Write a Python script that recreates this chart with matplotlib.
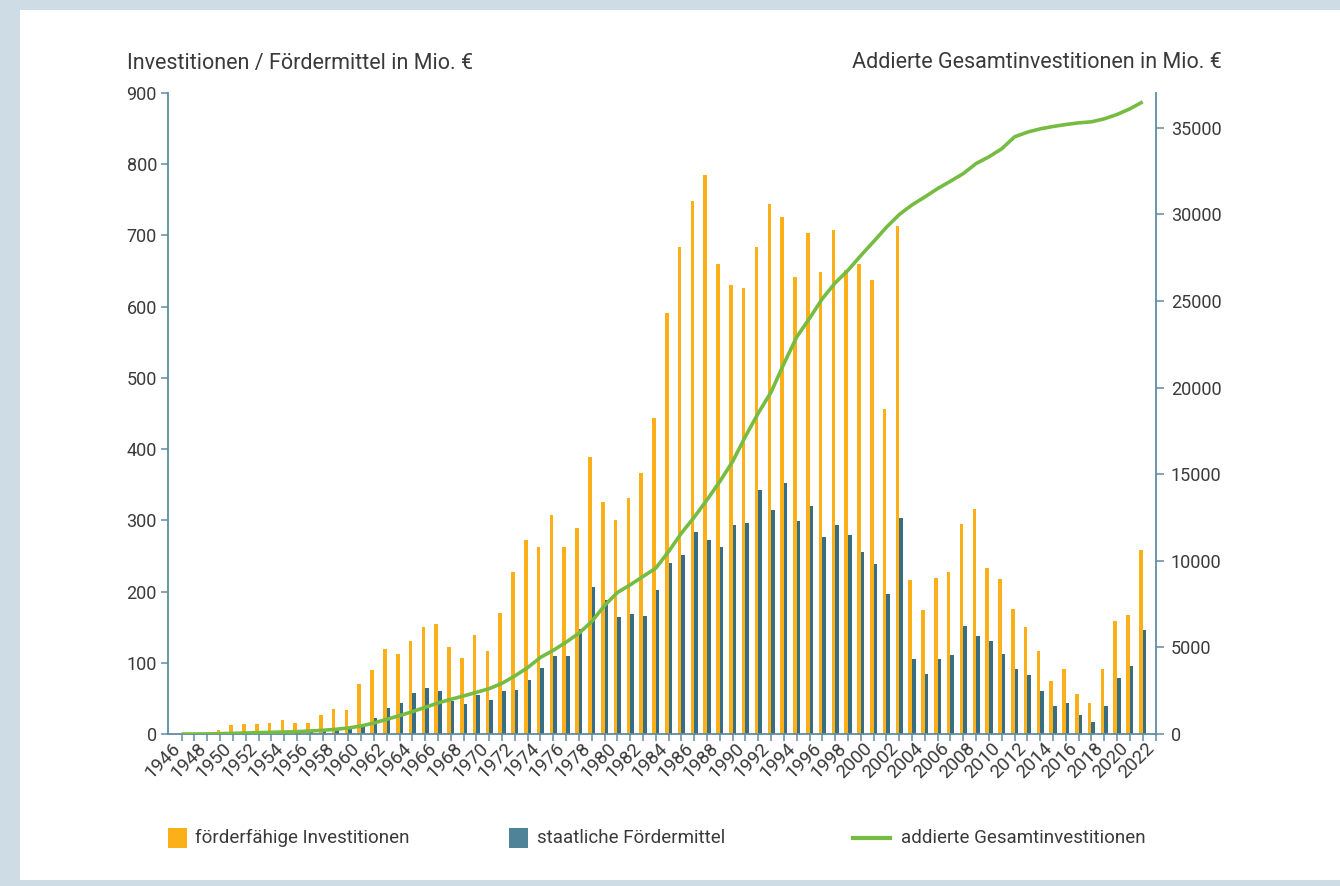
import matplotlib
matplotlib.use("Agg")
import matplotlib.pyplot as plt
import matplotlib.transforms as mtransforms
from matplotlib.patches import Rectangle
from matplotlib.lines import Line2D

# ---------------------------------------------------------------- data
years = list(range(1946, 2022))
axis_years = list(range(1946, 2023))

investitionen = [
    0, 0, 1, 5, 12, 14, 14, 16, 19, 16, 16, 26, 35, 33,
    70, 90, 119, 112, 131, 150, 154, 122, 107, 139,
    117, 170, 227, 273, 263, 308, 263, 289, 389, 326,
    300, 332, 366, 444, 591, 684, 748, 785, 660, 630,
    626, 684, 744, 726, 642, 703, 649, 707, 651, 660,
    638, 457, 713, 216, 174, 219, 227, 295, 316, 233,
    217, 175, 150, 116, 75, 91, 56, 43, 91, 159, 167, 258,
]

foerdermittel = [
    0, 0, 0, 1, 2, 2, 3, 3, 4, 3, 3, 4, 6, 8,
    11, 23, 36, 44, 57, 64, 61, 46, 42, 55,
    48, 61, 62, 76, 92, 110, 109, 147, 207, 188,
    164, 168, 166, 202, 240, 251, 283, 272, 262, 294,
    296, 342, 314, 353, 299, 320, 276, 293, 279, 255,
    238, 196, 303, 105, 84, 106, 111, 152, 137, 130,
    113, 91, 83, 61, 40, 44, 26, 17, 40, 78, 95, 146,
]

gesamt_addiert = [
    0, 0, 5, 19, 38, 58, 77, 96, 116, 135, 173, 212, 270, 347,
    462, 635, 847, 1059, 1290, 1540, 1790, 2002, 2195, 2407,
    2619, 2927, 3351, 3832, 4420, 4830, 5300, 5817, 6488, 7414,
    8163, 8608, 9090, 9572, 10530, 11594, 12516, 13518, 14576, 15732,
    17180, 18526, 19736, 21375, 22917, 23992, 25130, 26036, 26767, 27614,
    28423, 29249, 29983, 30542, 31000, 31485, 31909, 32350, 32930, 33315,
    33780, 34470, 34740, 34930, 35066, 35181, 35277, 35335, 35508, 35760,
    36085, 36490,
]

left_ticks = list(range(0, 901, 100))
right_ticks = list(range(0, 35001, 5000))

title_left = "Investitionen / Fördermittel in Mio. €"
title_right = "Addierte Gesamtinvestitionen in Mio. €"
legend_labels = ["förderfähige Investitionen", "staatliche Fördermittel",
                 "addierte Gesamtinvestitionen"]

# ---------------------------------------------------------------- style
ORANGE = "#FBB01A"
BLUE = "#376E83"
BLUE_LEGEND = "#4F8498"
GREEN = "#76BC43"
AXIS = "#5F8CA0"
TEXT = "#3A3A3A"
FRAME = "#CEDDE5"

plt.rcParams["font.family"] = ["Roboto", "DejaVu Sans"]
plt.rcParams["font.weight"] = "normal"
plt.rcParams["text.color"] = TEXT

W, H = 1340, 886
fig = plt.figure(figsize=(W / 100, H / 100), dpi=100)
fig.patch.set_facecolor(FRAME)

# white panel inside the light frame
fig.add_artist(Rectangle((20 / W, 1 - 880 / H), (W - 20) / W, (880 - 10) / H,
                         transform=fig.transFigure, facecolor="white",
                         edgecolor="none", zorder=0))


def fx(px):
    return px / W


def fy(py):
    return 1 - py / H


ax_left, ax_right, ax_top, ax_bottom = 168, 1155.5, 93, 734
ax = fig.add_axes([fx(ax_left), fy(ax_bottom), fx(ax_right - ax_left),
                   (ax_bottom - ax_top) / H])
ax.patch.set_visible(False)

bar_w = 0.28
ax.bar(years, investitionen, width=-bar_w, align="edge", color=ORANGE,
       edgecolor="none", zorder=2)
ax.bar(years, foerdermittel, width=bar_w, align="edge", color=BLUE,
       edgecolor="none", zorder=2)

ax.set_xlim(1946 - 13.7 / 12.83, 2022)
ax.set_ylim(0, 900)
ax.set_yticks(left_ticks)
ax.set_xticks(axis_years)
ax.set_xticklabels([str(y) if y % 2 == 0 else "" for y in axis_years])

for side in ("top", "right"):
    ax.spines[side].set_visible(False)
for side in ("left", "bottom"):
    ax.spines[side].set_color(AXIS)
    ax.spines[side].set_linewidth(1.3)

ax.tick_params(axis="both", color=AXIS, length=5, width=1.1, labelsize=13,
               labelcolor=TEXT)
ax.tick_params(axis="y", pad=3)
ax.tick_params(axis="x", pad=1, labelsize=13.5)

offset = mtransforms.ScaledTranslation(-4 / 100, -3 / 100, fig.dpi_scale_trans)
for lab in ax.get_xticklabels():
    lab.set_rotation(45)
    lab.set_rotation_mode("anchor")
    lab.set_ha("right")
    lab.set_va("center")
    lab.set_transform(lab.get_transform() + offset)

# cumulative line on the secondary axis
ax2 = ax.twinx()
ax2.plot(years, gesamt_addiert, color=GREEN, linewidth=2.6,
         solid_capstyle="butt", zorder=3)
ax2.set_ylim(0, 37000)
ax2.set_yticks(right_ticks)
for side in ("top", "left", "bottom"):
    ax2.spines[side].set_visible(False)
ax2.spines["right"].set_color(AXIS)
ax2.spines["right"].set_linewidth(1.3)
ax2.tick_params(axis="y", color=AXIS, length=6, width=1.1,
                labelsize=13, pad=5, labelcolor=TEXT)

# axis titles
fig.text(fx(127), fy(64), title_left, ha="left", va="center", fontsize=15.5)
fig.text(fx(1222), fy(62), title_right, ha="right", va="center", fontsize=15.5)

# legend
ly = 838
fig.add_artist(Rectangle((fx(168), fy(ly + 10)), fx(19), 20 / H,
                         transform=fig.transFigure, facecolor=ORANGE,
                         edgecolor="none"))
fig.text(fx(195), fy(ly), legend_labels[0], ha="left", va="center", fontsize=13.5)
fig.add_artist(Rectangle((fx(509), fy(ly + 10)), fx(19), 20 / H,
                         transform=fig.transFigure, facecolor=BLUE_LEGEND,
                         edgecolor="none"))
fig.text(fx(537), fy(ly), legend_labels[1], ha="left", va="center", fontsize=13.5)
fig.add_artist(Line2D([fx(853), fx(890)], [fy(ly), fy(ly)],
                      transform=fig.transFigure, color=GREEN, linewidth=3))
fig.text(fx(901), fy(ly), legend_labels[2], ha="left", va="center", fontsize=13.5)

fig.savefig("out.png", dpi=100, facecolor=fig.get_facecolor())
